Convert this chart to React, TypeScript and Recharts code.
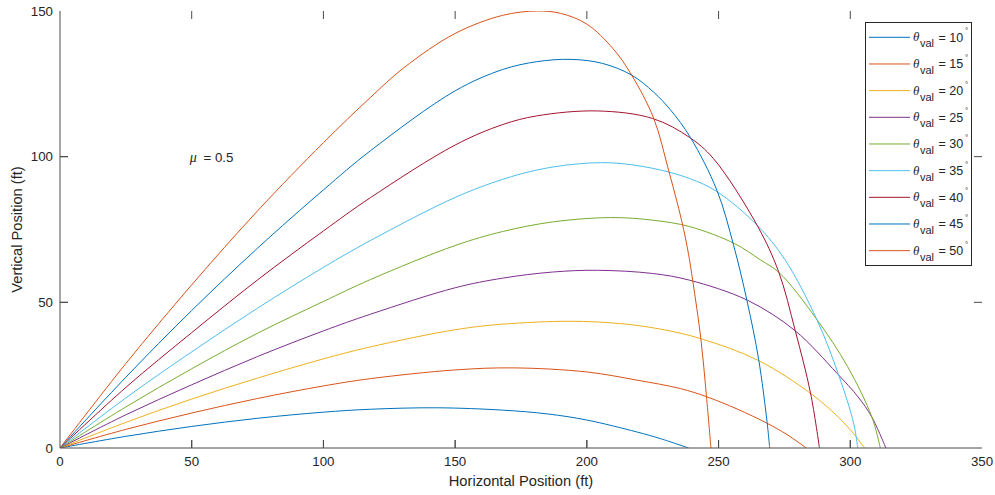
import React from 'react';
import { LineChart, Line, XAxis, YAxis, Legend, ReferenceDot, ReferenceLine, Label } from 'recharts';

// ---------- data ----------
const xTicks = [0, 50, 100, 150, 200, 250, 300, 350];
const yTicks = [0, 50, 100, 150];
const angleNames = ['10', '15', '20', '25', '30', '35', '40', '45', '50'];
const seriesColors = ['#0072BD', '#D95319', '#EDB120', '#7E2F8E', '#77AC30', '#4DBEEE', '#A2142F', '#0072BD', '#D95319'];

const theta10X = [0, 25, 50, 75, 100, 117.8, 143, 168, 185, 200, 219, 228, 238.6];
const theta10Y = [0, 4.0, 7.4, 10.2, 12.3, 13.3, 13.8, 13.0, 11.7, 9.6, 5.5, 3.2, 0];

const theta15X = [0, 25, 50, 75, 100, 117.8, 150, 172, 200, 219, 235.5, 245.5, 257, 268.4, 276, 283.3];
const theta15Y = [0, 6.4, 12.0, 17.0, 21.3, 23.8, 26.8, 27.5, 26.1, 23.3, 20.4, 17.6, 13.4, 8.5, 4.6, 0];

const theta20X = [0, 25, 50, 75, 100, 117.8, 150, 168, 193.7, 212.7, 228, 243, 265, 285, 295, 301.3, 305.4];
const theta20Y = [0, 8.8, 16.8, 24.0, 30.6, 34.7, 40.6, 42.5, 43.5, 42.7, 40.8, 37.6, 30.1, 18.7, 11.0, 4.9, 0];

const theta25X = [0, 25, 50, 75, 100, 117.8, 150, 168, 187, 204, 225, 239, 261, 279, 295, 303, 308.2, 313.5];
const theta25Y = [0, 11.4, 21.7, 31.4, 40.2, 45.9, 55.0, 58.3, 60.4, 61.0, 59.9, 57.6, 50.7, 40.3, 25.6, 17.5, 10.6, 0];

const theta30X = [0, 25, 50, 75, 100, 117.8, 150, 168, 187, 209, 225, 239, 256, 266, 273, 287, 299, 308.2, 311.4];
const theta30Y = [0, 14.1, 27.2, 39.4, 50.3, 57.8, 69.5, 74.3, 77.6, 79.1, 78.2, 76.0, 70.2, 64.5, 60.2, 44.5, 27.9, 10.6, 0];

const theta35X = [0, 25, 50, 75, 100, 117.8, 150, 168, 181, 194, 209, 225, 239, 249.4, 264.6, 275.3, 287.4, 295.6, 301.3, 302.8];
const theta35Y = [0, 17.2, 33.0, 48.0, 62.0, 71.2, 86.0, 92.2, 95.4, 97.3, 97.9, 96.0, 92.5, 88.0, 76.5, 64.5, 43.9, 25.0, 8.4, 0];

const theta40X = [0, 25, 50, 75, 100, 117.8, 150, 168, 181, 204, 225, 239, 248, 264.6, 272.8, 279.1, 284.9, 288.3];
const theta40Y = [0, 20.8, 39.6, 57.7, 74.5, 85.9, 104.0, 111.0, 114.0, 115.7, 113.1, 106.6, 99.4, 76.5, 60.5, 40.3, 18.9, 0];

const theta45X = [0, 25, 50, 75, 100, 117.8, 150, 168, 181, 194, 206, 217, 225.4, 231.7, 239.3, 249.4, 255.7, 260.8, 265.2, 268.4, 269.4];
const theta45Y = [0, 24.3, 47.2, 68.6, 88.6, 102.0, 122.6, 129.9, 132.6, 133.4, 132.0, 128.0, 122.1, 116.1, 106.6, 88.4, 69.6, 50.5, 30.5, 9.0, 0];

const theta50X = [0, 25, 50, 75, 100, 117.8, 130.5, 150, 168, 181, 190, 200, 210, 217, 225.4, 231, 236, 238.6, 240.2, 243.3, 245.4, 247.1];
const theta50Y = [0, 29.0, 56.0, 81.4, 104.8, 120.3, 130.5, 142.3, 148.5, 150.0, 149.2, 145.5, 137.0, 128.0, 113.1, 95.4, 78.0, 66.5, 57.4, 37.3, 17.8, 0];

const seriesX = [theta10X, theta15X, theta20X, theta25X, theta30X, theta35X, theta40X, theta45X, theta50X];
const seriesY = [theta10Y, theta15Y, theta20Y, theta25Y, theta30Y, theta35Y, theta40Y, theta45Y, theta50Y];

const muText = ' = 0.5';
const muPos = { x: 50, y: 100 };

// ---------- layout / styles ----------
const CHART_W = 995;
const CHART_H = 495;
const MARGIN = { top: 11, right: 13, bottom: 0, left: 0 };
const Y_AXIS_W = 60;
const X_AXIS_H = 47;
const X_MIN = 0;
const X_MAX = 350;
const Y_MIN = 0;
const Y_MAX = 150;
const PLOT_W = CHART_W - MARGIN.left - MARGIN.right - Y_AXIS_W;
const PLOT_H = CHART_H - MARGIN.top - MARGIN.bottom - X_AXIS_H;
const TICK_PX = 8;
const TICK_DX = (TICK_PX * (X_MAX - X_MIN)) / PLOT_W;
const TICK_DY = (TICK_PX * (Y_MAX - Y_MIN)) / PLOT_H;

const FONT = '"Liberation Sans", Arial, Helvetica, sans-serif';
const TEXT_COLOR = '#262626';
const AXIS_COLOR = '#4a4a4a';

const series = seriesX.map((xs, i) => ({
  name: angleNames[i],
  color: seriesColors[i],
  data: xs.map((x, j) => ({ x, y: seriesY[i][j] })),
}));

const innerXTicks = xTicks.filter((t) => t > X_MIN && t < X_MAX);
const innerYTicks = yTicks.filter((t) => t > Y_MIN && t < Y_MAX);

// inward tick marks on the bottom and left edges, drawn as short two-point lines
const bottomTickMarks = innerXTicks.map((t) => ({
  key: `bt${t}`,
  data: [{ x: t, y: Y_MIN }, { x: t, y: Y_MIN + TICK_DY }],
}));
const leftTickMarks = innerYTicks.map((t) => ({
  key: `lt${t}`,
  data: [{ x: X_MIN, y: t }, { x: X_MIN + TICK_DX, y: t }],
}));

// Centripetal Catmull-Rom curve factory (smooth through every point)
function smoothCurve(context: any) {
  let pts: number[][] = [];
  return {
    areaStart() {},
    areaEnd() {},
    lineStart() {
      pts = [];
    },
    point(x: number, y: number) {
      pts.push([+x, +y]);
    },
    lineEnd() {
      const n = pts.length;
      if (!n) return;
      context.moveTo(pts[0][0], pts[0][1]);
      if (n === 1) return;
      const dist = (a: number[], b: number[]) => Math.hypot(a[0] - b[0], a[1] - b[1]);
      for (let i = 0; i < n - 1; i++) {
        const p0 = i > 0 ? pts[i - 1] : null;
        const p1 = pts[i];
        const p2 = pts[i + 1];
        const p3 = i + 2 < n ? pts[i + 2] : null;
        const l01 = p0 ? dist(p0, p1) : 0;
        const l12 = dist(p1, p2);
        const l23 = p3 ? dist(p2, p3) : 0;
        const l01a = Math.sqrt(l01);
        const l12a = Math.sqrt(l12);
        const l23a = Math.sqrt(l23);
        let c1x = p1[0];
        let c1y = p1[1];
        let c2x = p2[0];
        let c2y = p2[1];
        if (p0 && l01a > 1e-9) {
          const a = 2 * l01 + 3 * l01a * l12a + l12;
          const m = 3 * l01a * (l01a + l12a);
          c1x = (p1[0] * a - p0[0] * l12 + p2[0] * l01) / m;
          c1y = (p1[1] * a - p0[1] * l12 + p2[1] * l01) / m;
        }
        if (p3 && l23a > 1e-9) {
          const b = 2 * l23 + 3 * l23a * l12a + l12;
          const m = 3 * l23a * (l23a + l12a);
          c2x = (p2[0] * b + p1[0] * l23 - p3[0] * l12) / m;
          c2y = (p2[1] * b + p1[1] * l23 - p3[1] * l12) / m;
        }
        context.bezierCurveTo(c1x, c1y, c2x, c2y, p2[0], p2[1]);
      }
    },
  };
}

function BottomTick(props: any) {
  const x = Number(props.x);
  const y = Number(props.y);
  return (
    <text x={x} y={y + 18} textAnchor="middle" fill={TEXT_COLOR} fontSize={13.3} fontFamily={FONT}>
      {props.payload.value}
    </text>
  );
}

function LeftTick(props: any) {
  const x = Number(props.x);
  const y = Number(props.y);
  return (
    <text x={x - 7} y={y + 4.7} textAnchor="end" fill={TEXT_COLOR} fontSize={13.3} fontFamily={FONT}>
      {props.payload.value}
    </text>
  );
}

// Vertical reference line drawn only as short inward ticks (top + bottom)
function VerticalTickShape(props: any) {
  const x = Number(props.x1);
  const yb = Math.max(Number(props.y1), Number(props.y2));
  const yt = Math.min(Number(props.y1), Number(props.y2));
  return (
    <g>
      <line x1={x} x2={x} y1={yt} y2={yt + TICK_PX} stroke={AXIS_COLOR} strokeWidth={1} />
      <line x1={x} x2={x} y1={yb} y2={yb - TICK_PX} stroke={AXIS_COLOR} strokeWidth={1} />
    </g>
  );
}

// Horizontal reference line drawn only as short inward ticks (right + left)
function HorizontalTickShape(props: any) {
  const y = Number(props.y1);
  const xl = Math.min(Number(props.x1), Number(props.x2));
  const xr = Math.max(Number(props.x1), Number(props.x2));
  return (
    <g>
      <line x1={xr} x2={xr - TICK_PX} y1={y} y2={y} stroke={AXIS_COLOR} strokeWidth={1} />
      <line x1={xl} x2={xl + TICK_PX} y1={y} y2={y} stroke={AXIS_COLOR} strokeWidth={1} />
    </g>
  );
}

const renderLegend = (props: any) => {
  const payload = (props.payload || []).filter(
    (p: any) => p.type !== 'none' && angleNames.includes(String(p.value))
  );
  payload.sort((a: any, b: any) => Number(a.value) - Number(b.value));
  return (
    <svg width={107} height={244} style={{ display: 'block' }}>
      <rect x={0.5} y={0.5} width={106} height={243} fill="#fff" stroke="#262626" strokeWidth={1} />
      {payload.map((p: any, i: number) => {
        const cy = 15.3 + i * 26.67;
        return (
          <g key={i}>
            <line x1={4} x2={45} y1={cy} y2={cy} stroke={p.color} strokeWidth={1} />
            <text x={48} y={cy + 4} fontFamily='"Liberation Serif", "DejaVu Serif", serif' fontStyle="italic" fontSize={13} fill={TEXT_COLOR}>
              θ
            </text>
            <text x={55} y={cy + 10} fontFamily={FONT} fontSize={11} fill={TEXT_COLOR}>
              val
            </text>
            <text x={73.5} y={cy + 4.5} fontFamily={FONT} fontSize={12.5} fill={TEXT_COLOR}>
              = {p.value}
            </text>
            <text x={100} y={cy - 4} fontFamily={FONT} fontSize={8} fill={TEXT_COLOR}>
              °
            </text>
          </g>
        );
      })}
    </svg>
  );
};

const MuLabel = (props: any) => {
  const vb = props.viewBox || {};
  const cx = (vb.x || 0) + (vb.width || 0) / 2;
  const cy = (vb.y || 0) + (vb.height || 0) / 2;
  return (
    <text x={cx - 2} y={cy + 5.5} fill={TEXT_COLOR} fontSize={13.3} fontFamily={FONT}>
      <tspan fontFamily='"Liberation Serif", "DejaVu Serif", serif' fontStyle="italic" fontSize={14}>μ</tspan>
      <tspan dx={3}>{muText}</tspan>
    </text>
  );
};

const YTitle = (props: any) => {
  const vb = props.viewBox || {};
  const cx = (vb.x || 0) + 22;
  const cy = (vb.y || 0) + (vb.height || 0) / 2;
  return (
    <text
      transform={`translate(${cx}, ${cy}) rotate(-90)`}
      textAnchor="middle"
      fill={TEXT_COLOR}
      fontSize={14.7}
      fontFamily={FONT}
    >
      Vertical Position (ft)
    </text>
  );
};

const XTitle = (props: any) => {
  const vb = props.viewBox || {};
  const cx = (vb.x || 0) + (vb.width || 0) / 2;
  const by = (vb.y || 0) + 38;
  return (
    <text x={cx} y={by} textAnchor="middle" fill={TEXT_COLOR} fontSize={14.7} fontFamily={FONT}>
      Horizontal Position (ft)
    </text>
  );
};

const lineStyle = { stroke: AXIS_COLOR, strokeWidth: 1 };

export default function App() {
  return (
    <div style={{ position: 'absolute', left: 0, top: 0, width: CHART_W, height: CHART_H, background: '#fff' }}>
      <LineChart width={CHART_W} height={CHART_H} margin={MARGIN}>
        <XAxis
          xAxisId="top"
          orientation="top"
          dataKey="x"
          type="number"
          domain={[X_MIN, X_MAX]}
          ticks={xTicks}
          allowDataOverflow
          height={0}
          tickLine={false}
          axisLine={lineStyle}
          tick={false}
        />
        <YAxis
          yAxisId="right"
          orientation="right"
          type="number"
          domain={[Y_MIN, Y_MAX]}
          ticks={yTicks}
          allowDataOverflow
          width={0}
          tickLine={false}
          axisLine={lineStyle}
          tick={false}
        />
        <XAxis
          dataKey="x"
          type="number"
          domain={[X_MIN, X_MAX]}
          ticks={xTicks}
          allowDataOverflow
          height={X_AXIS_H}
          tickSize={0}
          tickMargin={0}
          tickLine={false}
          axisLine={lineStyle}
          tick={<BottomTick />}
          interval={0}
        >
          <Label content={XTitle} />
        </XAxis>
        <YAxis
          type="number"
          domain={[Y_MIN, Y_MAX]}
          ticks={yTicks}
          allowDataOverflow
          width={Y_AXIS_W}
          tickSize={0}
          tickMargin={0}
          tickLine={false}
          axisLine={lineStyle}
          tick={<LeftTick />}
          interval={0}
        >
          <Label content={YTitle} />
        </YAxis>
        {innerXTicks.map((t) => (
          <ReferenceLine key={`vx${t}`} x={t} shape={VerticalTickShape} ifOverflow="visible" />
        ))}
        {innerYTicks.map((t) => (
          <ReferenceLine key={`hy${t}`} y={t} shape={HorizontalTickShape} ifOverflow="visible" />
        ))}
        {[...bottomTickMarks, ...leftTickMarks].map((m) => (
          <Line
            key={m.key}
            data={m.data}
            dataKey="y"
            type="linear"
            stroke={AXIS_COLOR}
            strokeWidth={1}
            dot={false}
            activeDot={false}
            legendType="none"
            isAnimationActive={false}
          />
        ))}
        {series.map((s) => (
          <Line
            key={s.name}
            data={s.data}
            dataKey="y"
            name={s.name}
            type={smoothCurve as any}
            stroke={s.color}
            strokeWidth={1}
            dot={false}
            activeDot={false}
            isAnimationActive={false}
          />
        ))}
        <ReferenceDot x={muPos.x} y={muPos.y} r={0} fill="none" stroke="none" label={<MuLabel />} />
        <Legend
          layout="horizontal"
          verticalAlign="middle"
          align="center"
          content={renderLegend}
          wrapperStyle={{ left: 865, top: 22, width: 107, height: 244 }}
        />
      </LineChart>
    </div>
  );
}
